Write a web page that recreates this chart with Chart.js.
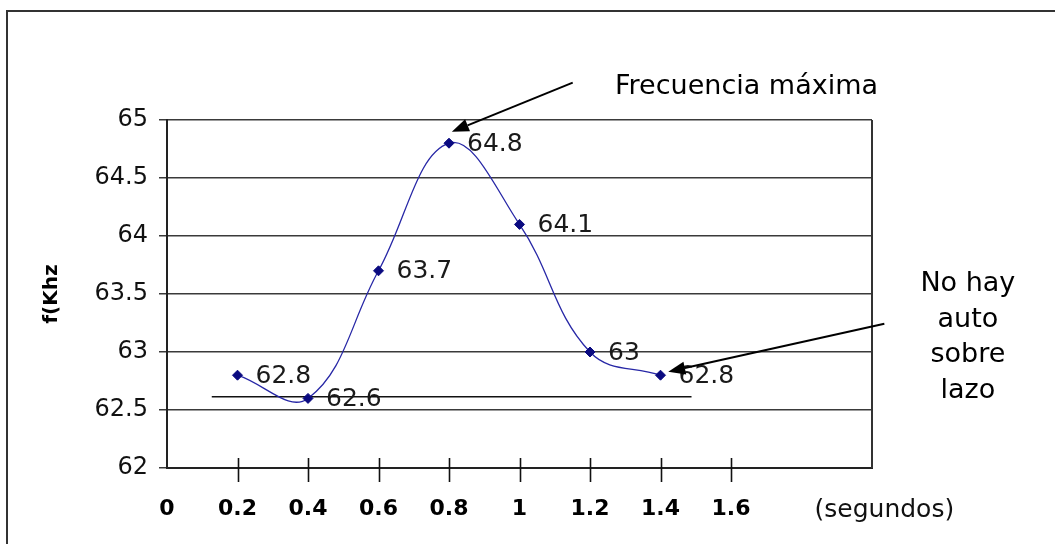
<!DOCTYPE html>
<html>
<head>
<meta charset="utf-8">
<script src="https://cdn.jsdelivr.net/npm/chart.js@4"></script>
<style>
  html, body { margin: 0; padding: 0; background: #fff; overflow: hidden; }
  #wrap { position: relative; width: 1055px; height: 544px; }
  #frame { position: absolute; left: 6px; top: 10px; width: 1100px; height: 600px; border: 2px solid #333; box-sizing: border-box; }
  canvas { position: absolute; left: 0; top: 0; }
</style>
</head>
<body>
<div id="wrap">
  <div id="frame"></div>
  <canvas id="chart" width="1055" height="544"></canvas>
</div>
<script>
// time (s) and measured frequency (kHz)
const seconds = [0.2, 0.4, 0.6, 0.8, 1.0, 1.2, 1.4];
const freqKhz = [62.8, 62.6, 63.7, 64.8, 64.1, 63.0, 62.8];

const xTickValues = [0, 0.2, 0.4, 0.6, 0.8, 1.0, 1.2, 1.4, 1.6];
const xTickMarks = [0.2, 0.4, 0.6, 0.8, 1.0, 1.2, 1.4, 1.6];
const xUnitLabel = '(segundos)';
const yTitle = 'f(Khz';

// reference line under the curve
const refLineX = [0.127, 1.488];
const refLineY = [62.615, 62.615];

// annotations, in data coordinates
const peakNote = {text: 'Frecuencia máxima', x: 1.271, y: 65.284};
const peakArrow = {from: [1.151, 65.322], to: [0.808, 64.899]};
const loopNote = {lines: ['No hay', 'auto', 'sobre', 'lazo'], x: 2.272, y: 63.586};
const loopArrow = {from: [2.035, 63.244], to: [1.422, 62.83]};

const NUM_FONT = '25px "DejaVu Sans"';
const NOTE_FONT = '27px "DejaVu Sans"';

const drawArrow = (ctx, x1, y1, x2, y2) => {
  const ang = Math.atan2(y2 - y1, x2 - x1);
  const len = 17;
  const half = 6.5;
  const bx = x2 - len * Math.cos(ang);
  const by = y2 - len * Math.sin(ang);
  ctx.beginPath();
  ctx.moveTo(x1, y1);
  ctx.lineTo(bx, by);
  ctx.stroke();
  ctx.beginPath();
  ctx.moveTo(x2, y2);
  ctx.lineTo(bx + half * Math.sin(ang), by - half * Math.cos(ang));
  ctx.lineTo(bx - half * Math.sin(ang), by + half * Math.cos(ang));
  ctx.closePath();
  ctx.fill();
};

const decorations = {
  id: 'decorations',
  afterDraw(chart) {
    const {ctx, chartArea, scales: {x, y}} = chart;
    ctx.save();

    // right border of the plot
    ctx.strokeStyle = '#333';
    ctx.lineWidth = 2;
    ctx.beginPath();
    ctx.moveTo(chartArea.right, chartArea.top);
    ctx.lineTo(chartArea.right, chartArea.bottom);
    ctx.stroke();

    // tick marks crossing the x axis
    ctx.strokeStyle = '#111';
    ctx.lineWidth = 1.6;
    xTickMarks.forEach((v) => {
      const px = Math.round(x.getPixelForValue(v)) + 0.5;
      ctx.beginPath();
      ctx.moveTo(px, chartArea.bottom - 10);
      ctx.lineTo(px, chartArea.bottom + 14);
      ctx.stroke();
    });

    // point values
    const meta = chart.getDatasetMeta(0);
    ctx.font = NUM_FONT;
    ctx.fillStyle = '#1a1a1a';
    ctx.textBaseline = 'middle';
    ctx.textAlign = 'left';
    meta.data.forEach((pt, i) => {
      ctx.fillText(String(freqKhz[i]), pt.x + 18, pt.y + 1);
    });

    // unit label on the x axis
    ctx.font = '25px "DejaVu Sans"';
    ctx.fillStyle = '#111';
    ctx.textAlign = 'center';
    ctx.fillText(xUnitLabel, x.getPixelForValue(2.035), 510);

    // notes
    ctx.fillStyle = '#000';
    ctx.font = NOTE_FONT;
    ctx.textAlign = 'left';
    ctx.fillText(peakNote.text, x.getPixelForValue(peakNote.x), y.getPixelForValue(peakNote.y));
    ctx.textAlign = 'center';
    const lx = x.getPixelForValue(loopNote.x);
    const ly = y.getPixelForValue(loopNote.y);
    loopNote.lines.forEach((line, i) => ctx.fillText(line, lx, ly + i * 35.5));

    // arrows
    ctx.strokeStyle = '#000';
    ctx.fillStyle = '#000';
    ctx.lineWidth = 2;
    [peakArrow, loopArrow].forEach((a) => {
      drawArrow(ctx,
        x.getPixelForValue(a.from[0]), y.getPixelForValue(a.from[1]),
        x.getPixelForValue(a.to[0]), y.getPixelForValue(a.to[1]));
    });

    ctx.restore();
  }
};

new Chart(document.getElementById('chart'), {
  type: 'line',
  data: {
    datasets: [{
      data: seconds.map((s, i) => ({x: s, y: freqKhz[i]})),
      borderColor: '#2727a6',
      borderWidth: 1.3,
      tension: 0.4,
      pointStyle: 'rectRot',
      pointRadius: 5,
      pointBackgroundColor: '#0a0a80',
      pointBorderColor: '#0a0a80',
      pointBorderWidth: 1
    }, {
      data: refLineX.map((v, i) => ({x: v, y: refLineY[i]})),
      borderColor: '#111',
      borderWidth: 1.5,
      pointRadius: 0,
      tension: 0
    }]
  },
  plugins: [decorations],
  options: {
    responsive: false,
    animation: false,
    layout: {padding: {top: 120, right: 183, left: 0, bottom: 0}},
    plugins: {legend: {display: false}, tooltip: {enabled: false}},
    scales: {
      x: {
        type: 'linear',
        min: 0,
        max: 2.0,
        afterBuildTicks: (scale) => {
          scale.ticks = xTickValues.map((v) => ({value: v}));
        },
        afterFit: (scale) => { scale.height = 76; },
        grid: {display: false, drawTicks: false},
        border: {color: '#222', width: 2},
        ticks: {
          padding: 28,
          maxRotation: 0,
          autoSkip: false,
          color: '#000',
          font: {family: 'DejaVu Sans', size: 22, weight: 'bold'},
          callback: (v) => String(v)
        }
      },
      y: {
        min: 62,
        max: 65,
        afterFit: (scale) => { scale.width = 167; },
        grid: {color: '#3a3a3a', lineWidth: 1.5, tickLength: 8},
        border: {color: '#222', width: 2},
        title: {
          display: true,
          text: yTitle,
          color: '#000',
          padding: {top: 40, bottom: 0},
          font: {family: 'DejaVu Sans', size: 20, weight: 'bold'}
        },
        ticks: {
          stepSize: 0.5,
          padding: 11,
          color: '#111',
          font: {family: 'DejaVu Sans', size: 24},
          callback: (v) => String(v)
        }
      }
    }
  }
});
</script>
</body>
</html>
